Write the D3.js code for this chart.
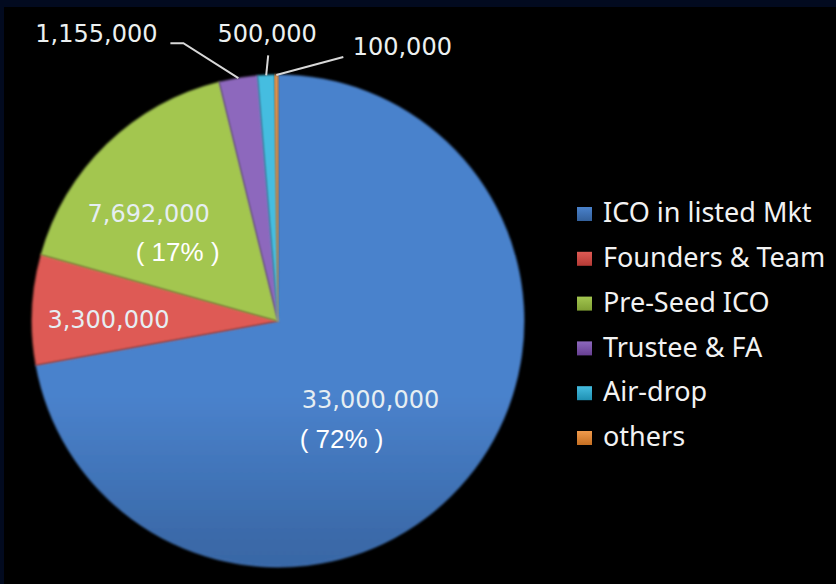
<!DOCTYPE html>
<html>
<head>
<meta charset="utf-8">
<script src="https://cdn.jsdelivr.net/npm/d3@7"></script>
<style>
  html, body { margin: 0; padding: 0; background: #000; overflow: hidden; }
  svg { display: block; }
</style>
</head>
<body>
<svg id="chart"></svg>
<script>
// Data
const categories = ['ICO in listed Mkt', 'Founders & Team', 'Pre-Seed ICO', 'Trustee & FA', 'Air-drop', 'others'];
const values = [33000000, 3300000, 7692000, 1155000, 500000, 100000];
const valueLabels = ['33,000,000', '3,300,000', '7,692,000', '1,155,000', '500,000', '100,000'];
const percentLabels = ['( 72% )', null, '( 17% )', null, null, null];
const colors = ['#3a69a8', '#c9443f', '#8fb23d', '#7651a3', '#2aa3c6', '#dc8130'];
const lightColors = ['#4a82cc', '#de5a54', '#a3c650', '#8d68bd', '#45bde0', '#f09a4c'];
const darkColors = ['#33609b', '#b53a35', '#7f9f33', '#673f92', '#1f90b2', '#c56f22'];

const width = 836, height = 584;
const cx = 278, cy = 321, radius = 246;

const svg = d3.select('#chart')
    .attr('width', width)
    .attr('height', height);

// dark navy frame on top/left
svg.append('rect').attr('width', width).attr('height', height).attr('fill', '#020a1f');
svg.append('rect').attr('x', 4).attr('y', 7).attr('width', width).attr('height', height).attr('fill', '#000');

const defs = svg.append('defs');
colors.forEach((c, i) => {
  const g = defs.append('linearGradient')
      .attr('id', 'grad' + i)
      .attr('gradientUnits', 'userSpaceOnUse')
      .attr('x1', 0).attr('y1', cy - radius)
      .attr('x2', 0).attr('y2', cy + radius);
  g.append('stop').attr('offset', '0%').attr('stop-color', lightColors[i]);
  g.append('stop').attr('offset', '30%').attr('stop-color', c);
  g.append('stop').attr('offset', '100%').attr('stop-color', darkColors[i]);
});

const soft = defs.append('filter').attr('id', 'soft');
soft.append('feGaussianBlur').attr('stdDeviation', 0.8);

const pie = d3.pie().sort(null).value(d => d);
const arcs = pie(values);
const arc = d3.arc().innerRadius(0).outerRadius(radius);

const chart = svg.append('g').attr('transform', `translate(${cx},${cy})`);

chart.selectAll('.slice')
    .data(arcs)
  .join('path')
    .attr('class', 'slice')
    .attr('d', arc)
    .attr('fill', (d, i) => `url(#grad${i})`)
    .attr('stroke', (d, i) => lightColors[i])
    .attr('stroke-opacity', 0.5)
    .attr('stroke-width', 1.5)
    .attr('filter', 'url(#soft)');

// inside labels: centroid at a fraction of the radius, then nudged
const inside = [
  {i: 0, r: 0.49, dx: 0, dy: 3, pdx: -29, pdy: 40},
  {i: 1, r: 0.69, dx: 0, dy: 8, pdx: 0, pdy: 0},
  {i: 2, r: 0.68, dx: -13, dy: 14, pdx: 29, pdy: 39}
];
inside.forEach(o => {
  const a = d3.arc().innerRadius(radius * o.r).outerRadius(radius * o.r);
  const [x, y] = a.centroid(arcs[o.i]);
  chart.append('text')
      .attr('x', x + o.dx).attr('y', y + o.dy)
      .attr('text-anchor', 'middle')
      .attr('dominant-baseline', 'middle')
      .attr('font-family', 'DejaVu Sans')
      .attr('font-size', 24)
      .attr('fill', '#e6eef2')
      .text(valueLabels[o.i]);
  if (percentLabels[o.i]) {
    chart.append('text')
        .attr('x', x + o.dx + o.pdx).attr('y', y + o.dy + o.pdy)
        .attr('text-anchor', 'middle')
        .attr('dominant-baseline', 'middle')
        .attr('font-family', 'Liberation Sans')
        .attr('font-size', 26)
        .attr('fill', '#fff')
        .text(percentLabels[o.i]);
  }
});

// outside labels with leader lines (elbow offsets relative to the slice edge)
const outside = [
  {i: 3, ex: -55, ey: -35, hx: -13, tx: -142, ty: -43},
  {i: 4, ex: 2, ey: -20, hx: 0, tx: 1, ty: -40},
  {i: 5, ex: 67, ey: -18, hx: 0, tx: 126, ty: -27}
];
outside.forEach(o => {
  const [x0, y0] = arc.centroid(arcs[o.i]).map(v => v * 2);
  const x1 = x0 + o.ex, y1 = y0 + o.ey;
  chart.append('polyline')
      .attr('points', [[x0, y0], [x1, y1], [x1 + o.hx, y1]].map(p => p.join(',')).join(' '))
      .attr('fill', 'none')
      .attr('stroke', '#d8d8d8')
      .attr('stroke-width', 2);
  chart.append('text')
      .attr('x', x0 + o.tx).attr('y', y0 + o.ty)
      .attr('text-anchor', 'middle')
      .attr('dominant-baseline', 'middle')
      .attr('font-family', 'DejaVu Sans')
      .attr('font-size', 24)
      .attr('fill', '#ecf0f0')
      .text(valueLabels[o.i]);
});

// legend
categories.forEach((c, i) => {
  const g = defs.append('linearGradient').attr('id', 'lg' + i).attr('x1', 0).attr('y1', 0).attr('x2', 0).attr('y2', 1);
  g.append('stop').attr('offset', '0%').attr('stop-color', lightColors[i]);
  g.append('stop').attr('offset', '100%').attr('stop-color', darkColors[i]);
});
const legend = svg.append('g').attr('transform', 'translate(577,214)');
const rows = legend.selectAll('.row')
    .data(categories)
  .join('g')
    .attr('class', 'row')
    .attr('transform', (d, i) => `translate(0,${i * 44.8})`);
rows.append('rect')
    .attr('x', 0).attr('y', -7)
    .attr('width', 15).attr('height', 14)
    .attr('fill', (d, i) => `url(#lg${i})`);
rows.append('text')
    .attr('x', 26).attr('y', 1)
    .attr('dominant-baseline', 'middle')
    .attr('font-family', 'Noto Sans')
    .attr('font-size', 27)
    .attr('fill', '#f2f2f2')
    .text(d => d);
</script>
</body>
</html>
